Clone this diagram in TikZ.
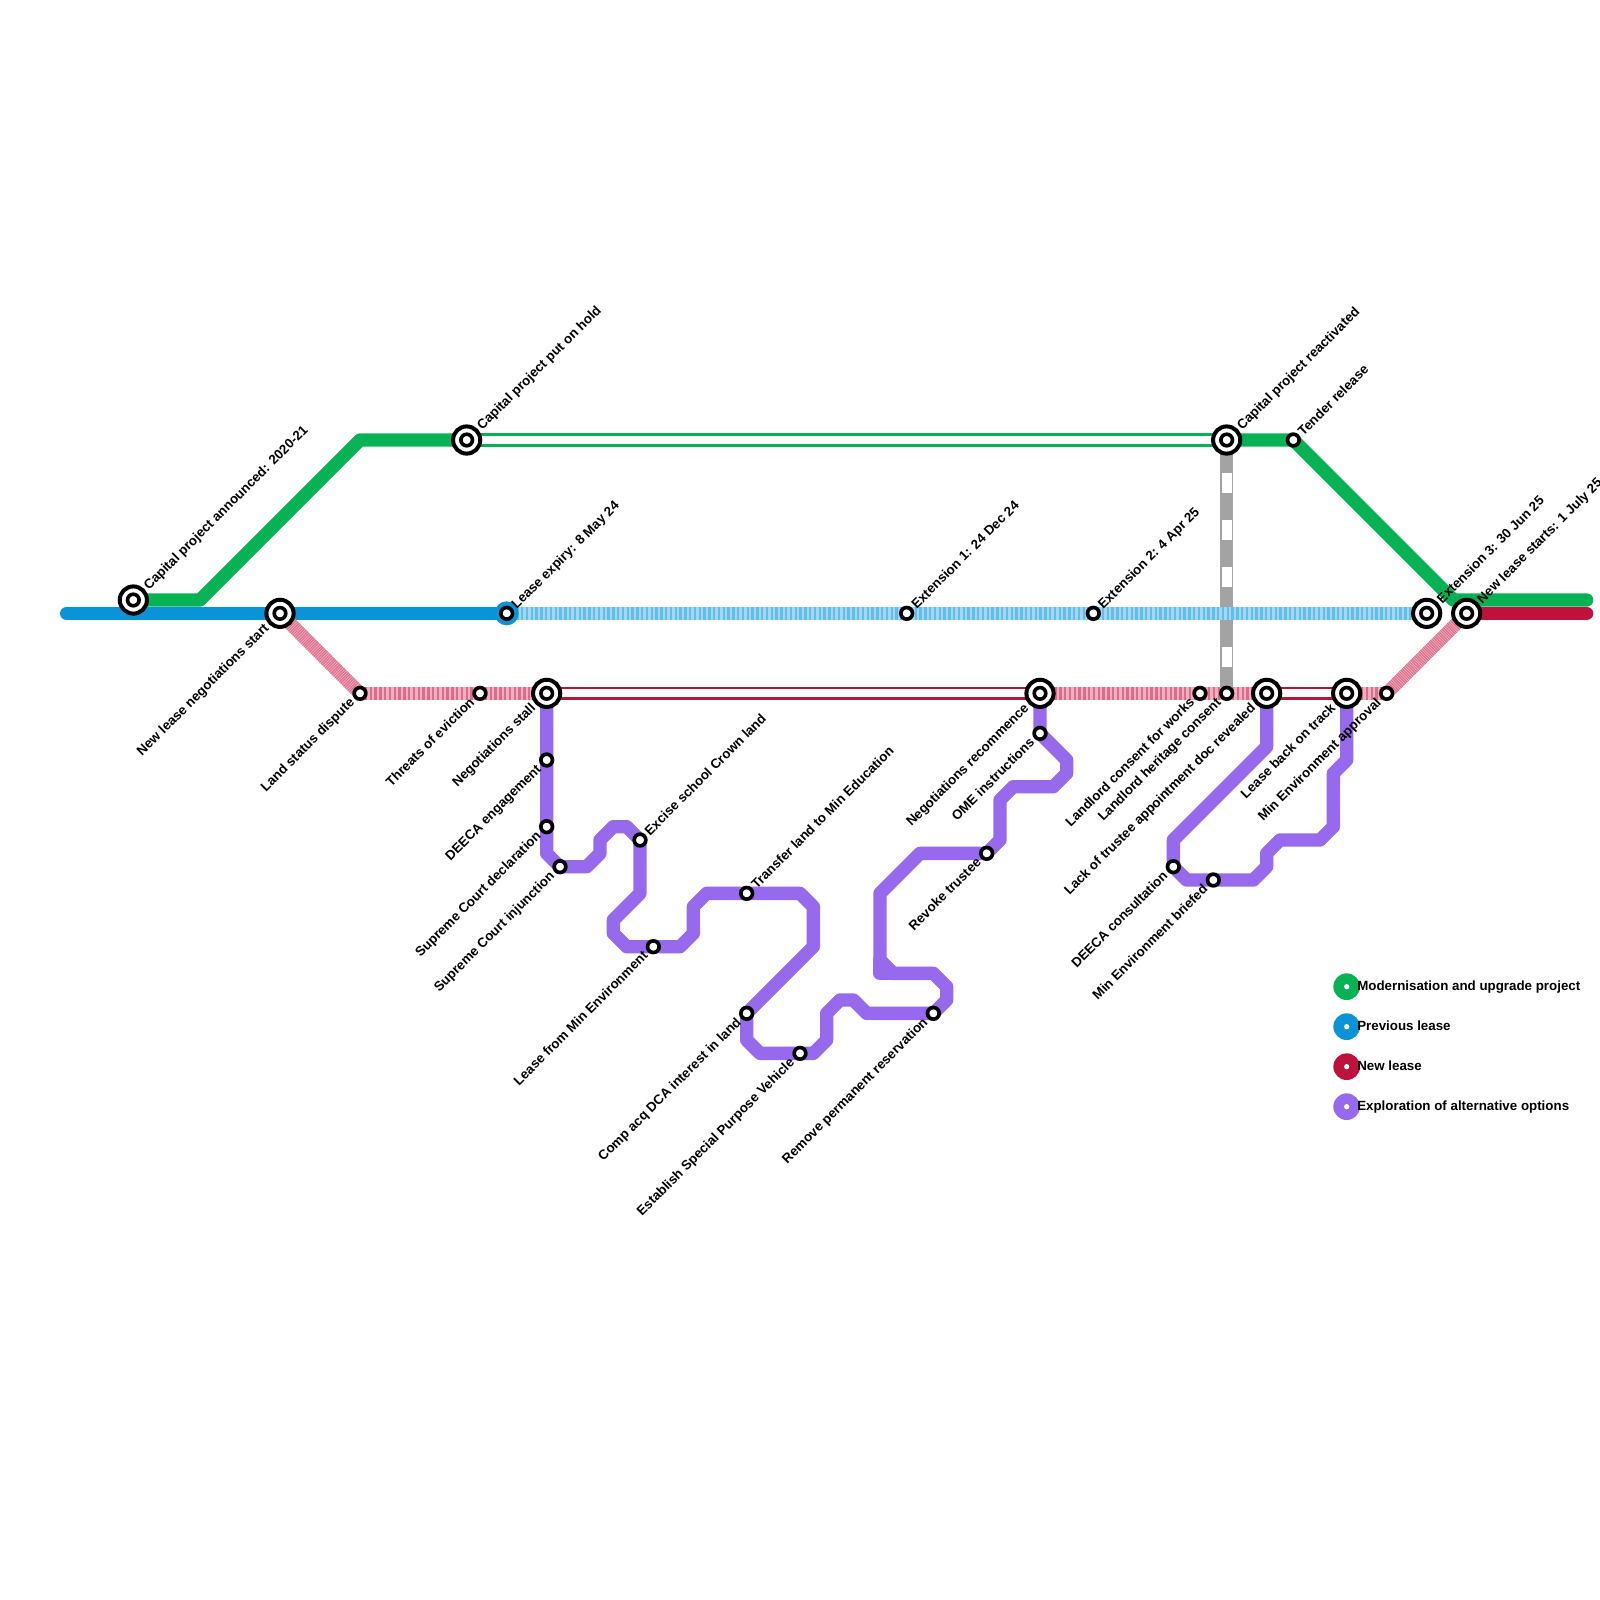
\documentclass[tikz,border=0pt]{standalone}
\usepackage{fontspec}
\setmainfont{Liberation Sans}
\usetikzlibrary{backgrounds}
\definecolor{projgreen}{HTML}{06B254}
\definecolor{leaseblue}{HTML}{0A94D6}
\definecolor{bluedark}{HTML}{62BDE9}
\definecolor{bluelight}{HTML}{A3D6F0}
\definecolor{leasered}{HTML}{BE123C}
\definecolor{reddark}{HTML}{DB6C8B}
\definecolor{redlight}{HTML}{EFB0C0}
\definecolor{optpurple}{HTML}{9769EC}
\definecolor{linegray}{HTML}{A3A3A3}

\begin{document}
\begin{tikzpicture}[
  x=6.6667pt, y=-6.6667pt,
  txt/.style={font=\fontsize{6.667}{8}\selectfont\bfseries, text=black, inner sep=0pt},
  bigstn/.style={
    circle, draw=black, line width=2pt, fill=white, minimum size=13.6pt, inner sep=0pt,
    path picture={\draw[black, line width=1.8pt] (path picture bounding box.center) circle (2.9pt);}
  },
  smallstn/.style={
    circle, draw=black, line width=1.83pt, fill=white, minimum size=5.83pt, inner sep=0pt
  },
  halo/.style={circle, fill=leaseblue, minimum size=12pt, inner sep=0pt},
  above lbl/.style={label={[txt, xshift=2.2pt, yshift=-3.2pt, rotate=45, anchor=base west, label distance=2.2pt]45:#1}},
  below lbl/.style={label={[txt, xshift=0.4pt, rotate=45, anchor=base east, label distance=2.2pt]225:#1}},
  legenddot/.style={
    circle, fill=#1, minimum size=13.33pt, inner sep=0pt,
    path picture={\fill[white] (path picture bounding box.center) circle (1.33pt);}
  },
  legendtext/.style={txt, anchor=base west, xshift=5.1pt, yshift=-1.75pt},
  solidline/.style={line width=6.667pt, line join=round, line cap=round, draw=#1},
  doubleline/.style={draw=#1, line width=1.3pt, double=white, double distance=4.07pt},
  stripeblue/.style={line width=6.667pt, draw=bluelight,
    postaction={draw=bluedark, dash pattern=on 1.2pt off 1.2pt}},
  stripered/.style={line width=6.667pt, draw=redlight,
    postaction={draw=reddark, dash pattern=on 1.2pt off 1.2pt}},
  finered/.style={line width=6.667pt, draw=redlight,
    postaction={draw=reddark, dash pattern=on 0.5pt off 0.5pt}},
  dashgray/.style={line width=6.667pt, draw=linegray,
    postaction={draw=white, line width=5pt, dash pattern=on 10pt off 13.33pt, dash phase=6.67pt}}
]
\useasboundingbox (0,0) rectangle (120,120);

\node[bigstn, above lbl={Capital project announced: 2020-21}] (announced) at (10,45) {};
\node[bigstn, above lbl={Capital project put on hold}] (onhold) at (35,33) {};
\node[bigstn, above lbl={Capital project reactivated}] (reactivated) at (92,33) {};
\node[smallstn, above lbl={Tender release}] (tender) at (97,33) {};

\node[bigstn, below lbl={New lease negotiations start}] (negstart) at (21,46) {};
\node[halo] (expiryhalo) at (38,46) {};
\node[smallstn, above lbl={Lease expiry: 8 May 24}] (expiry) at (38,46) {};
\node[smallstn, above lbl={Extension 1: 24 Dec 24}] (extone) at (68,46) {};
\node[smallstn, above lbl={Extension 2: 4 Apr 25}] (exttwo) at (82,46) {};
\node[bigstn, above lbl={Extension 3: 30 Jun 25}] (extthree) at (107,46) {};
\node[bigstn, above lbl={New lease starts: 1 July 25}] (leasestart) at (110,46) {};

\node[smallstn, below lbl={Land status dispute}] (dispute) at (27,52) {};
\node[smallstn, below lbl={Threats of eviction}] (eviction) at (36,52) {};
\node[bigstn, below lbl={Negotiations stall}] (stall) at (41,52) {};
\node[bigstn, below lbl={Negotiations recommence}] (recommence) at (78,52) {};
\node[smallstn, below lbl={Landlord consent for works}] (consent) at (90,52) {};
\node[smallstn, below lbl={Landlord heritage consent}] (heritage) at (92,52) {};
\node[bigstn, below lbl={Lack of trustee appointment doc revealed}] (revealed) at (95,52) {};
\node[bigstn, below lbl={Lease back on track}] (backontrack) at (101,52) {};
\node[smallstn, below lbl={Min Environment approval}] (approval) at (104,52) {};

\node[smallstn, below lbl={DEECA engagement}] (engagement) at (41,57) {};
\node[smallstn, below lbl={Supreme Court declaration}] (declaration) at (41,62) {};
\node[smallstn, below lbl={Supreme Court injunction}] (injunction) at (42,65) {};
\node[smallstn, above lbl={Excise school Crown land}] (excise) at (48,63) {};
\node[smallstn, below lbl={Lease from Min Environment}] (minlease) at (49,71) {};
\node[smallstn, above lbl={Transfer land to Min Education}] (transfer) at (56,67) {};
\node[smallstn, below lbl={Comp acq DCA interest in land}] (compacq) at (56,76) {};
\node[smallstn, below lbl={Establish Special Purpose Vehicle}] (vehicle) at (60,79) {};
\node[smallstn, below lbl={Remove permanent reservation}] (reservation) at (70,76) {};
\node[smallstn, below lbl={Revoke trustee}] (trustee) at (74,64) {};
\node[smallstn, below lbl={OME instructions}] (ome) at (78,55) {};
\node[smallstn, below lbl={DEECA consultation}] (consultation) at (88,65) {};
\node[smallstn, below lbl={Min Environment briefed}] (briefed) at (91,66) {};

\node[legenddot=projgreen] (keyproject) at (101,74) {};
\node[legenddot=leaseblue] (keyprevious) at (101,77) {};
\node[legenddot=leasered] (keynew) at (101,80) {};
\node[legenddot=optpurple] (keyoptions) at (101,83) {};
\node[legendtext] (keyprojecttxt) at (keyproject.center) {Modernisation and upgrade project};
\node[legendtext] (keyprevioustxt) at (keyprevious.center) {Previous lease};
\node[legendtext] (keynewtxt) at (keynew.center) {New lease};
\node[legendtext] (keyoptionstxt) at (keyoptions.center) {Exploration of alternative options};

\begin{scope}[on background layer]
\coordinate (leftend) at (5,46);
\coordinate (greenend) at (119,45);
\coordinate (redend) at (119,46);

\draw[solidline=optpurple] (stall.center) -- (engagement.center) -- (declaration.center) -- (41,64)
  -- (injunction.center) -- (44,65) -- (45,64) -- (45,63) -- (46,62) -- (47,62) -- (excise.center)
  -- (48,67) -- (46,69) -- (46,70) -- (47,71) -- (minlease.center) -- (51,71) -- (52,70) -- (52,68)
  -- (53,67) -- (transfer.center) -- (60,67) -- (61,68) -- (61,71) -- (compacq.center) -- (56,78)
  -- (57,79) -- (vehicle.center) -- (61,79) -- (62,78) -- (62,76) -- (63,75) -- (64,75) -- (65,76)
  -- (reservation.center) -- (71,75) -- (71,74) -- (70,73) -- (67,73) -- (66,72) -- (66,67)
  -- (69,64) -- (trustee.center) -- (75,63) -- (75,60) -- (76,59) -- (79,59) -- (80,58) -- (80,57)
  -- (ome.center) -- (recommence.center);
\draw[solidline=optpurple] (67,73) -- (66,73) -- (66,72);
\draw[solidline=optpurple] (revealed.center) -- (95,56) -- (88,63) -- (consultation.center) -- (89,66)
  -- (briefed.center) -- (94,66) -- (95,65) -- (95,64) -- (96,63) -- (99,63) -- (100,62) -- (100,58)
  -- (101,57) -- (backontrack.center);

\draw[dashgray] (reactivated.center) -- (92,46);
\draw[dashgray] (92,46) -- (heritage.center);

\draw[solidline=projgreen] (announced.center) -- (15,45) -- (27,33) -- (onhold.center);
\draw[doubleline=projgreen] (onhold.center) -- (reactivated.center);
\draw[solidline=projgreen] (reactivated.center) -- (tender.center) -- (109,45) -- (greenend);

\draw[solidline=leaseblue] (leftend) -- (negstart.center) -- (expiry.center);
\draw[stripeblue] (expiry.center) -- (extone.center) -- (exttwo.center) -- (extthree.center);

\draw[finered] (negstart.center) -- (dispute.center);
\draw[stripered] (dispute.center) -- (eviction.center) -- (stall.center);
\draw[doubleline=leasered] (stall.center) -- (recommence.center);
\draw[stripered] (recommence.center) -- (consent.center) -- (heritage.center) -- (revealed.center);
\draw[doubleline=leasered] (revealed.center) -- (backontrack.center);
\draw[stripered] (backontrack.center) -- (approval.center);
\draw[finered] (approval.center) -- (leasestart.center);
\draw[solidline=leasered] (leasestart.center) -- (redend);
\end{scope}

\end{tikzpicture}
\end{document}
